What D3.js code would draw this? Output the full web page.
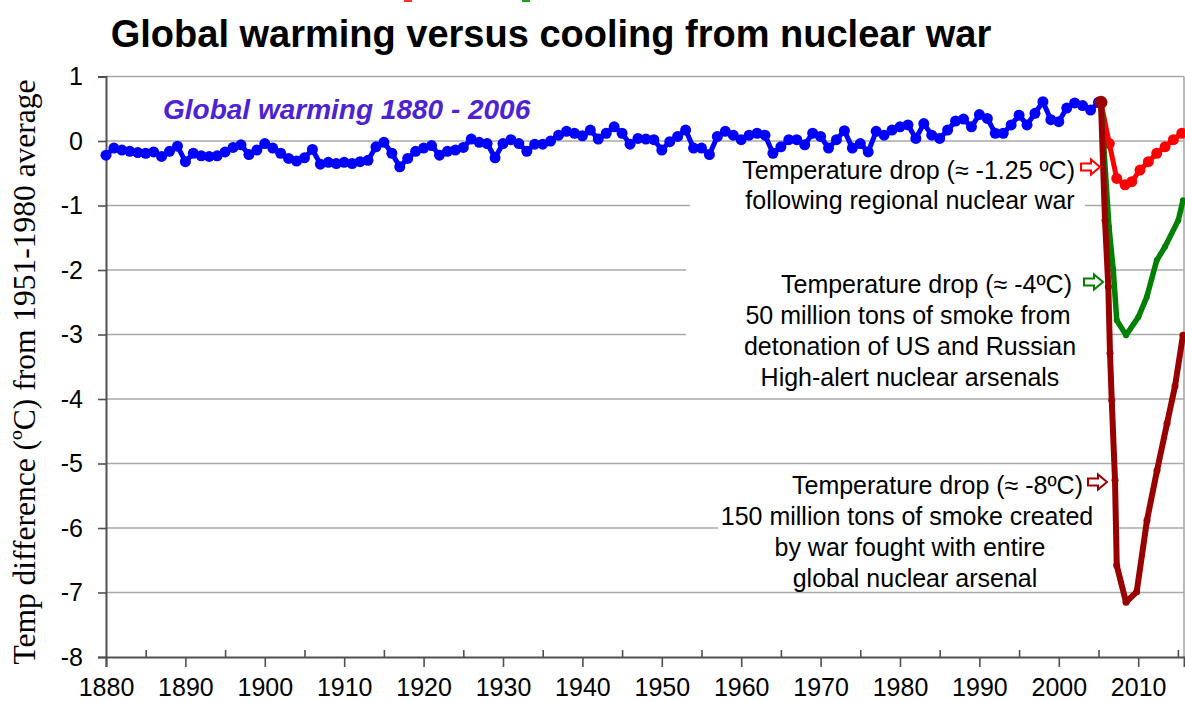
<!DOCTYPE html>
<html lang="en">
  <head>
    <meta charset="UTF-8" />
    <title>Global warming versus cooling from nuclear war</title>
    <script src="https://d3js.org/d3.v7.min.js"></script>
    <style>
      body {
        margin: 0;
        padding: 0;
        background-color: #ffffff;
      }
      svg {
        display: block;
        font-family: "Liberation Sans", Arial, sans-serif;
      }
    </style>
  </head>
  <body>
    <div id="chart"></div>

    <script>
      // -----------------------------
      // Data
      // -----------------------------

      // Global temperature anomaly, one value per year 1880 - 2005
      const blueYears = d3.range(1880, 2006);
      const blueTemps = [
        -0.22, -0.11, -0.14, -0.16, -0.18, -0.19, -0.17, -0.24, -0.16, -0.08,
        -0.32, -0.19, -0.23, -0.24, -0.23, -0.17, -0.10, -0.06, -0.21, -0.14,
        -0.04, -0.11, -0.19, -0.27, -0.31, -0.26, -0.13, -0.36, -0.33, -0.35,
        -0.33, -0.35, -0.32, -0.30, -0.09, -0.02, -0.19, -0.40, -0.27, -0.16,
        -0.11, -0.07, -0.22, -0.16, -0.14, -0.10, 0.03, -0.02, -0.04, -0.26,
        -0.04, 0.02, -0.04, -0.16, -0.05, -0.05, 0.0, 0.09, 0.15, 0.12,
        0.08, 0.17, 0.03, 0.12, 0.22, 0.12, -0.05, 0.04, 0.03, 0.02,
        -0.14, -0.01, 0.07, 0.17, -0.11, -0.11, -0.21, 0.07, 0.15, 0.09,
        0.02, 0.09, 0.12, 0.09, -0.19, -0.09, 0.02, 0.02, -0.06, 0.12,
        0.07, -0.11, 0.02, 0.16, -0.11, -0.04, -0.17, 0.15, 0.09, 0.17,
        0.22, 0.25, 0.04, 0.27, 0.09, 0.04, 0.17, 0.31, 0.34, 0.22,
        0.41, 0.35, 0.12, 0.12, 0.25, 0.4, 0.25, 0.43, 0.61, 0.33,
        0.3, 0.51, 0.59, 0.55, 0.48, 0.6,
      ];

      // Regional nuclear war (about -1.25 C)
      const regionalYears = [2005.31, 2006.36, 2007.3, 2008.35, 2009.19, 2010.23, 2011.28, 2012.34, 2013.38, 2014.43, 2015.49];
      const regionalTemps = [0.6, -0.04, -0.58, -0.68, -0.63, -0.45, -0.32, -0.19, -0.09, 0.02, 0.12];

      // US / Russian high-alert arsenals (about -4 C)
      const highAlertYears = [2005.31, 2006.32, 2006.86, 2007.3, 2008.47, 2010.02, 2011.08, 2012.34, 2013.38, 2015.05, 2015.64];
      const highAlertTemps = [0.6, -1.33, -2.0, -2.78, -3.01, -2.73, -2.42, -1.85, -1.64, -1.23, -0.92];

      // Entire global arsenal (about -8 C)
      const globalYears = [2005.31, 2005.82, 2006.24, 2006.45, 2006.67, 2007.08, 2007.3, 2008.47, 2009.81, 2011.11, 2012.37, 2013.63, 2014.64, 2015.64];
      const globalTemps = [0.6, -1.23, -2.26, -3.29, -4.02, -5.26, -6.58, -7.15, -6.99, -5.88, -5.11, -4.38, -3.8, -3.01];

      // Axis ticks
      const yTicks = [1, 0, -1, -2, -3, -4, -5, -6, -7, -8];
      const xMajorTicks = [1880, 1890, 1900, 1910, 1920, 1930, 1940, 1950, 1960, 1970, 1980, 1990, 2000, 2010];
      const xMinorTicks = [1885, 1895, 1905, 1915, 1925, 1935, 1945, 1955, 1965, 1975, 1985, 1995, 2005, 2015];

      // Text
      const chartTitle = "Global warming versus cooling from nuclear war";
      const yTitle = "Temp difference (\u00baC) from 1951-1980 average";
      const warmingLabel = "Global warming 1880 - 2006";

      // -----------------------------
      // Layout
      // -----------------------------
      const width = 1185;
      const height = 702;

      const x = d3.scaleLinear().domain([1880, 2015.77]).range([106, 1184]);
      const y = d3.scaleLinear().domain([-8, 1]).range([657, 76.5]);

      const svg = d3
        .select("#chart")
        .append("svg")
        .attr("width", width)
        .attr("height", height);

      // leftover legend marks at the very top
      svg.append("rect").attr("x", 404).attr("y", 0).attr("width", 8).attr("height", 2).attr("fill", "#ff3030");
      svg.append("rect").attr("x", 522).attr("y", 0).attr("width", 8).attr("height", 2).attr("fill", "#20a020");

      // Title
      svg
        .append("text")
        .attr("x", 551)
        .attr("y", 47)
        .attr("text-anchor", "middle")
        .attr("font-size", 38)
        .attr("font-weight", "bold")
        .attr("fill", "#000")
        .text(chartTitle);

      // Gridlines
      svg
        .append("g")
        .selectAll("line")
        .data(yTicks.filter((d) => d > -8))
        .join("line")
        .attr("x1", x.range()[0])
        .attr("x2", x.range()[1])
        .attr("y1", (d) => y(d))
        .attr("y2", (d) => y(d))
        .attr("stroke", "#a8a8a8")
        .attr("stroke-width", 1.6);

      // right border of the plot
      svg
        .append("line")
        .attr("x1", x.range()[1])
        .attr("x2", x.range()[1])
        .attr("y1", y(1))
        .attr("y2", y(-8))
        .attr("stroke", "#a8a8a8")
        .attr("stroke-width", 1.6);

      // Annotations: white boxes hide the gridlines behind the text
      const annotations = [
        {
          color: "#ff0000",
          box: [690, 150, 395, 64],
          arrow: [1081, 167],
          lines: [
            { text: "Temperature drop (\u2248 -1.25 \u00baC)", x: 1075, y: 170, anchor: "end" },
            { text: "following regional nuclear war", x: 910, y: 200, anchor: "middle" },
          ],
        },
        {
          color: "#008000",
          box: [686, 263, 422, 128],
          arrow: [1084, 282],
          lines: [
            { text: "Temperature drop (\u2248 -4\u00baC)", x: 1072, y: 284, anchor: "end" },
            { text: "50 million tons of smoke from", x: 908, y: 315, anchor: "middle" },
            { text: "detonation of US and Russian", x: 910, y: 346, anchor: "middle" },
            { text: "High-alert nuclear arsenals", x: 910, y: 377, anchor: "middle" },
          ],
        },
        {
          color: "#990000",
          box: [718, 469, 396, 118],
          arrow: [1088, 482],
          lines: [
            { text: "Temperature drop (\u2248 -8\u00baC)", x: 1083, y: 485, anchor: "end" },
            { text: "150 million tons of smoke created", x: 907, y: 516, anchor: "middle" },
            { text: "by war fought with entire", x: 910, y: 547, anchor: "middle" },
            { text: "global nuclear arsenal", x: 915, y: 578, anchor: "middle" },
          ],
        },
      ];

      svg
        .append("g")
        .selectAll("rect")
        .data(annotations)
        .join("rect")
        .attr("x", (d) => d.box[0])
        .attr("y", (d) => d.box[1])
        .attr("width", (d) => d.box[2])
        .attr("height", (d) => d.box[3])
        .attr("fill", "#ffffff");

      // Axes
      const yAxis = svg
        .append("g")
        .attr("transform", `translate(${x.range()[0]},0)`)
        .call(d3.axisLeft(y).tickValues(yTicks).tickSize(8).tickPadding(15).tickFormat((d) => String(d)));

      const xAxis = svg
        .append("g")
        .attr("transform", `translate(0,${y(-8)})`)
        .call(d3.axisBottom(x).tickValues(xMajorTicks).tickSize(10).tickPadding(11).tickFormat((d) => String(d)));

      const xMinor = svg
        .append("g")
        .attr("transform", `translate(0,${y(-8)})`)
        .call(d3.axisBottom(x).tickValues(xMinorTicks).tickSize(-7).tickFormat(""));

      [yAxis, xAxis, xMinor].forEach((g) => {
        g.select(".domain").attr("stroke", "#505050").attr("stroke-width", 2);
        g.selectAll(".tick line").attr("stroke", "#505050").attr("stroke-width", 1.6);
        g.selectAll(".tick text")
          .attr("font-size", 25)
          .attr("fill", "#000")
          .attr("font-family", '"Liberation Sans", Arial, sans-serif');
      });
      xMinor.select(".domain").remove();

      // Y axis title
      svg
        .append("text")
        .attr("transform", "translate(35,372) rotate(-90)")
        .attr("text-anchor", "middle")
        .attr("font-family", '"Liberation Serif", "Times New Roman", serif')
        .attr("font-size", 31.5)
        .attr("fill", "#000")
        .text(yTitle);

      // -----------------------------
      // Series
      // -----------------------------
      const line = d3
        .line()
        .x((d) => x(d[0]))
        .y((d) => y(d[1]));

      const series = [
        { name: "warming", years: blueYears, temps: blueTemps, color: "#0000ff", width: 5, r: 5.5 },
        { name: "regional", years: regionalYears, temps: regionalTemps, color: "#ff0000", width: 5, r: 5.5 },
        { name: "highAlert", years: highAlertYears, temps: highAlertTemps, color: "#008000", width: 5.5, r: 3 },
        { name: "global", years: globalYears, temps: globalTemps, color: "#990000", width: 6, r: 3.5 },
      ];

      series.forEach((s) => {
        const pts = s.years.map((yr, i) => [yr, s.temps[i]]);
        const g = svg.append("g").attr("class", "series-" + s.name);
        g.append("path")
          .datum(pts)
          .attr("d", line)
          .attr("fill", "none")
          .attr("stroke", s.color)
          .attr("stroke-width", s.width)
          .attr("stroke-linejoin", "round");
        g.selectAll("circle")
          .data(pts)
          .join("circle")
          .attr("cx", (d) => x(d[0]))
          .attr("cy", (d) => y(d[1]))
          .attr("r", s.r)
          .attr("fill", s.color);
      });

      // start point of the nuclear curves
      svg
        .append("circle")
        .attr("cx", x(globalYears[0]))
        .attr("cy", y(globalTemps[0]))
        .attr("r", 6.5)
        .attr("fill", "#990000");

      // "Global warming" label
      svg
        .append("text")
        .attr("x", 163)
        .attr("y", 119)
        .attr("font-size", 28)
        .attr("font-weight", "bold")
        .attr("font-style", "italic")
        .attr("fill", "#4c22d4")
        .text(warmingLabel);

      // Annotation text and hollow arrows
      const arrowPath = "M0,-3.5 L10,-3.5 L10,-7.5 L19,0 L10,7.5 L10,3.5 L0,3.5 Z";

      annotations.forEach((a) => {
        const g = svg.append("g");
        g.selectAll("text")
          .data(a.lines)
          .join("text")
          .attr("x", (d) => d.x)
          .attr("y", (d) => d.y)
          .attr("dy", "0.35em")
          .attr("text-anchor", (d) => d.anchor)
          .attr("font-size", 25)
          .attr("fill", "#000")
          .text((d) => d.text);
        g.append("path")
          .attr("d", arrowPath)
          .attr("transform", `translate(${a.arrow[0]},${a.arrow[1]})`)
          .attr("fill", "#ffffff")
          .attr("stroke", a.color)
          .attr("stroke-width", 2);
      });
    </script>
  </body>
</html>
